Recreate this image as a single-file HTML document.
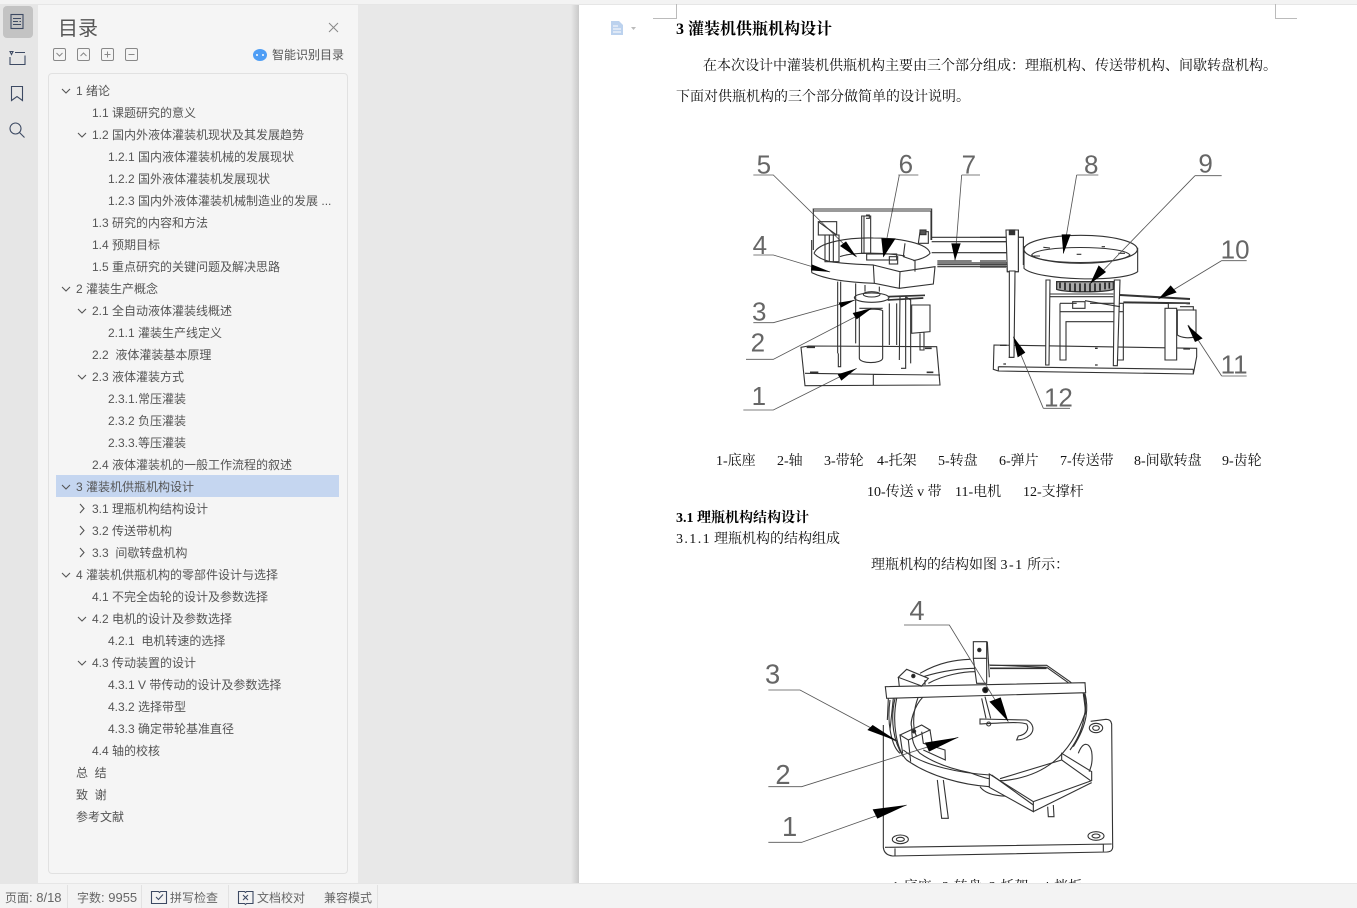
<!DOCTYPE html>
<html lang="zh"><head><meta charset="utf-8"><title>目录</title>
<style>
html,body{margin:0;padding:0}
body{width:1357px;height:908px;overflow:hidden;position:relative;background:#e8e8e8;font-family:"Liberation Sans","Noto Sans CJK SC",sans-serif;color:#555}
.a{position:absolute;white-space:nowrap}
.t{position:absolute;white-space:nowrap;font-size:12px;line-height:22px;height:22px;color:#555;margin-top:1px}
.d{position:absolute;white-space:nowrap;font-family:"Liberation Serif","Noto Serif CJK SC",serif;font-size:14px;line-height:20px;height:20px;color:#111;margin-top:2px}
.s{position:absolute;white-space:nowrap;font-size:12px;line-height:20px;top:888px;color:#666}
.s b{font-weight:400;font-size:13px}
svg{position:absolute;left:0;top:0}
</style></head><body>
<div class="a" style="left:0;top:0;width:38px;height:908px;background:#e6e6e6"></div>
<div class="a" style="left:38px;top:0;width:320px;height:908px;background:#f5f5f5"></div>
<div class="a" style="left:358px;top:0;width:221px;height:908px;background:#e8e8e8"></div>
<div class="a" style="left:571px;top:0;width:8px;height:908px;background:linear-gradient(90deg,#e8e8e8,#c9c9c9)"></div>
<div class="a" style="left:579px;top:0;width:778px;height:908px;background:#fff"></div>
<div class="a" style="left:0;top:0;width:1357px;height:4px;background:#f3f3f3;border-bottom:1px solid #e6e6e6"></div>
<div class="a" style="left:3px;top:6px;width:30px;height:32px;background:#c3c3c3;border-radius:4px"></div>
<div class="a" style="left:58px;top:16px;font-size:20px;line-height:26px;color:#555">目录</div>
<div class="a" style="left:272px;top:46px;font-size:12px;line-height:18px;color:#555">智能识别目录</div>
<div class="a" style="left:48px;top:73px;width:298px;height:799px;border:1px solid #e1e1e1;border-radius:4px;background:#f5f5f5"></div>
<div class="a" style="left:56px;top:475px;width:283px;height:22px;background:#c5d6f0"></div>

<div class="t" style="left:76px;top:79px">1 绪论</div>
<div class="t" style="left:92px;top:101px">1.1 课题研究的意义</div>
<div class="t" style="left:92px;top:123px">1.2 国内外液体灌装机现状及其发展趋势</div>
<div class="t" style="left:108px;top:145px">1.2.1 国内液体灌装机械的发展现状</div>
<div class="t" style="left:108px;top:167px">1.2.2 国外液体灌装机发展现状</div>
<div class="t" style="left:108px;top:189px">1.2.3 国内外液体灌装机械制造业的发展 ...</div>
<div class="t" style="left:92px;top:211px">1.3 研究的内容和方法</div>
<div class="t" style="left:92px;top:233px">1.4 预期目标</div>
<div class="t" style="left:92px;top:255px">1.5 重点研究的关键问题及解决思路</div>
<div class="t" style="left:76px;top:277px">2 灌装生产概念</div>
<div class="t" style="left:92px;top:299px">2.1 全自动液体灌装线概述</div>
<div class="t" style="left:108px;top:321px">2.1.1 灌装生产线定义</div>
<div class="t" style="left:92px;top:343px">2.2&nbsp; 液体灌装基本原理</div>
<div class="t" style="left:92px;top:365px">2.3 液体灌装方式</div>
<div class="t" style="left:108px;top:387px">2.3.1.常压灌装</div>
<div class="t" style="left:108px;top:409px">2.3.2 负压灌装</div>
<div class="t" style="left:108px;top:431px">2.3.3.等压灌装</div>
<div class="t" style="left:92px;top:453px">2.4 液体灌装机的一般工作流程的叙述</div>
<div class="t" style="left:76px;top:475px">3 灌装机供瓶机构设计</div>
<div class="t" style="left:92px;top:497px">3.1 理瓶机构结构设计</div>
<div class="t" style="left:92px;top:519px">3.2 传送带机构</div>
<div class="t" style="left:92px;top:541px">3.3&nbsp; 间歇转盘机构</div>
<div class="t" style="left:76px;top:563px">4 灌装机供瓶机构的零部件设计与选择</div>
<div class="t" style="left:92px;top:585px">4.1 不完全齿轮的设计及参数选择</div>
<div class="t" style="left:92px;top:607px">4.2 电机的设计及参数选择</div>
<div class="t" style="left:108px;top:629px">4.2.1&nbsp; 电机转速的选择</div>
<div class="t" style="left:92px;top:651px">4.3 传动装置的设计</div>
<div class="t" style="left:108px;top:673px">4.3.1 V 带传动的设计及参数选择</div>
<div class="t" style="left:108px;top:695px">4.3.2 选择带型</div>
<div class="t" style="left:108px;top:717px">4.3.3 确定带轮基准直径</div>
<div class="t" style="left:92px;top:739px">4.4 轴的校核</div>
<div class="t" style="left:76px;top:761px">总&nbsp; 结</div>
<div class="t" style="left:76px;top:783px">致&nbsp; 谢</div>
<div class="t" style="left:76px;top:805px">参考文献</div>

<svg width="1357" height="908" viewBox="0 0 1357 908" fill="none">
<g stroke="#3d4a63" stroke-width="1.100">
<rect x="11" y="14.500" width="12" height="14"/><path d="M13 18.500h8M13 21.500h5M19.500 21.500h1.500M13 24.500h8"/>
<path d="M10 51.500h3l-1.500 3zM15 52.500h10M10 57v7.500h15v-9"/>
<path d="M11.500 86.500h11v14l-5.500-4-5.500 4z"/>
<circle cx="15.500" cy="128.500" r="5.500"/><path d="M19.500 132.500l5 5"/>
</g>
<g stroke="#888" stroke-width="1"><path d="M329 23l9 9M338 23l-9 9"/>
<rect x="53.500" y="48.500" width="12" height="12" rx="1.500"/><path d="M56.500 53l3 3 3-3"/>
<rect x="77.500" y="48.500" width="12" height="12" rx="1.500"/><path d="M80.500 56l3-3 3 3"/>
<rect x="101.500" y="48.500" width="12" height="12" rx="1.500"/><path d="M104.500 54.500h6M107.500 51.500v6"/>
<rect x="125.500" y="48.500" width="12" height="12" rx="1.500"/><path d="M128.500 54.500h6"/></g>
<ellipse cx="260" cy="55" rx="7" ry="6" fill="#4f9ef5"/><circle cx="257" cy="55" r="1" fill="#fff"/><circle cx="263" cy="55" r="1" fill="#fff"/>
<g stroke="#555" stroke-width="1.100">
<path d="M62 89l4 4 4-4M78 133l4 4 4-4M62 287l4 4 4-4M78 309l4 4 4-4M78 375l4 4 4-4M62 485l4 4 4-4M62 573l4 4 4-4M78 617l4 4 4-4M78 661l4 4 4-4"/>
<path d="M80 504l4 4.500-4 4.500M80 526l4 4.500-4 4.500M80 548l4 4.500-4 4.500"/></g>
<path d="M653 18.500h23.500V4M1297 18.500h-21.500V4" stroke="#bbb"/>
<path d="M611 21h8l4 4v10h-12z" fill="#bcd2ee"/><path d="M613 26h5M613 29h8M613 32h8" stroke="#fff"/><path d="M631 27h5l-2.500 3z" fill="#bbb"/>

<!-- FIGURE 1 LEFT -->
<g transform="translate(740,140) scale(.33333)" stroke="#333" stroke-width="3.300">
<g stroke="none" fill="#666" font-family="Liberation Sans,sans-serif" font-size="78">
<text x="50" y="100">5</text><text x="476" y="99">6</text><text x="665" y="100">7</text>
<text x="38" y="342">4</text><text x="36" y="542">3</text><text x="32" y="635">2</text><text x="35" y="795">1</text></g>
<g stroke="#555" stroke-width="2.500">
<path d="M40 105H100L350 350M475 105H535M478 105L430 350M665 105H720M665 105L645 360M40 345H100L270 396M40 548H100L345 480M18 658H100L395 505M10 810H100L350 685"/></g>
<path d="M575 292H800M575 305H800M575 338H800"/>
<path d="M592 363H695M592 369H800M592 374H800M592 380H800" stroke-width="3.500"/>
<path d="M218 207H575V300M218 213H575M220 207V330M215 300V398M573 213V300"/>
<path d="M365 228H392V340H365ZM372 228V340M378 225h10v10h-10"/>
<rect x="235" y="245" width="55" height="40"/><path d="M235 245L290 285M255 285H297V365H255ZM268 285V365M280 285V365"/>
<path d="M222 340C235 305 330 292 400 294C480 294 565 310 570 340C560 352 540 358 520 362"/>
<path d="M300 350C340 335 440 338 495 348"/>
<path d="M222 340C232 352 250 360 270 365C320 372 360 373 400 375"/>
<path d="M215 398C260 420 340 428 403 430"/>
<path d="M400 375L480 395L478 445L403 430ZM480 395L585 380L580 432L478 445M495 310L490 350L525 362V395M540 275H565V310H535Z"/>
<rect x="380" y="342" width="90" height="18"/><rect x="448" y="350" width="25" height="22"/>
<path d="M293 425V640M302 425V680H295V640M347 430V610M448 490V615M470 490V615"/>
<path d="M480 470L478 660M497 470V685H483M497 470L512 480V670"/>
<ellipse cx="395" cy="473" rx="52" ry="14"/><ellipse cx="395" cy="463" rx="25" ry="8"/><path d="M375 435V455M418 440V455"/>
<path d="M443 470L555 466M443 480L550 474" stroke-width="5"/>
<path d="M358 520V655C360 672 425 672 428 655V512C420 505 370 505 358 520Z" fill="#fff"/>
<path d="M358 505H428"/>
<path d="M515 495H570V575L515 580ZM540 580V630H552V578" fill="#fff"/>
<path d="M183 622L205 618L590 620L600 735L195 737ZM183 622L195 737M195 700L400 703L600 705M400 703V737"/>
<path d="M200 622H225M555 625H575M210 697H235M560 697H580" stroke-width="5"/>
<path d="M800 270H835V395H802ZM835 292H850V345M805 270H830" fill="#fff"/><path d="M812 393V652M825 393L820 652H806"/>
<rect x="810" y="270" width="16" height="14" fill="#333"/>
<rect x="540" y="270" width="18" height="14" fill="#555"/>
<g fill="#000" stroke="none">
<path d="M350 352L300 318L318 304Z"/><path d="M430 352L424 295H467Z"/><path d="M645 362L634 310H662Z"/>
<path d="M272 396L215 373L213 391Z"/><path d="M345 480L296 488L303 503Z"/><path d="M395 505L338 519L350 538Z"/><path d="M350 685L293 703L304 722Z"/>
</g></g>

<!-- FIGURE 1 RIGHT -->
<g transform="translate(980,140) scale(.33333)" stroke="#333" stroke-width="3.300">
<g stroke="none" fill="#666" font-family="Liberation Sans,sans-serif" font-size="78">
<text x="312" y="100">8</text><text x="655" y="97">9</text><text x="722" y="355">10</text><text x="722" y="701">11</text><text x="192" y="799">12</text></g>
<path d="M42 615L650 625V650L640 702L55 693L40 688ZM55 680L640 688M55 680V693M640 688V702"/>
<path d="M60 616h20M610 627h20M345 625h8M345 675h8M70 672h8" stroke-width="4"/>
<path d="M210 462H400M210 470H400M240 490H290M330 490H430V660H412M240 515H430M240 490V660H258V545H400"/>
<path d="M198 420L197 675H207L210 420Z" fill="#fff"/><path d="M403 420L400 677H412L420 420Z" fill="#fff"/>
<path d="M278 485H315V505H278ZM315 482L420 500"/>
<path d="M420 465L630 477M430 487L630 490" stroke-width="6"/>
<path d="M555 505H590V660H555ZM565 505V490H630" fill="#fff"/>
<path d="M592 510H648V590C630 595 605 595 592 585ZM600 500H640V512" fill="#fff"/>
<path d="M132 320V385C170 422 430 428 473 395V325Z" fill="#fff"/>
<ellipse cx="302" cy="328" rx="170" ry="42" fill="#fff"/>
<path d="M155 345C170 315 430 315 450 345C420 375 180 375 155 345Z"/>
<path d="M190 322l20 2M365 320h10M415 340h20M160 348h20M290 343h14"/>
<path d="M230 425H400V448C370 458 260 458 230 448Z" fill="#aaa" stroke-width="4"/>
<path d="M240 428V445M255 428V450M270 430V454M285 430V456M300 430V456M315 430V456M330 430V456M345 430V454M360 430V452M375 428V448M388 428V446" stroke-width="5" stroke="#222"/>
<path d="M0 292H78M0 305H78M0 338H78"/><path d="M0 363H78M0 369H78M0 375H78M0 381H78" stroke-width="3.500"/>
<path d="M78 270H115V395H82ZM115 292H130V375M90 270H108" fill="#fff"/><path d="M88 393V652H102L105 393Z" fill="#fff"/>
<rect x="88" y="270" width="16" height="14" fill="#333"/>
<g stroke="#555" stroke-width="2.500"><path d="M290 105H355M290 105L250 340M645 107H725M645 107L330 432M725 362H800M725 362L535 477M725 708H800M725 708L625 555M190 805H270M190 805L100 590"/></g>
<g fill="#000" stroke="none">
<path d="M250 342L245 283H272Z"/><path d="M330 432L356 376L378 396Z"/><path d="M535 477L572 436L590 457Z"/><path d="M622 555L668 595L645 606Z"/><path d="M100 590L136 638L113 652Z"/>
</g></g>

<!-- FIGURE 2 -->
<g transform="translate(750,590) scale(.33333)" stroke="#333" stroke-width="3.300">
<g stroke="none" fill="#666" font-family="Liberation Sans,sans-serif" font-size="82">
<text x="478" y="90">4</text><text x="45" y="280">3</text><text x="76" y="582">2</text><text x="96" y="738">1</text></g>
<path d="M400 405V772Q402 795 428 798L1070 786Q1090 785 1088 768L1085 402Q1083 388 1068 388L1022 394"/>
<path d="M405 772L1085 762M435 775V797M1060 763V785"/>
<ellipse cx="451" cy="748" rx="24" ry="13"/><ellipse cx="451" cy="748" rx="12" ry="6"/>
<ellipse cx="1038" cy="738" rx="24" ry="13"/><ellipse cx="1038" cy="738" rx="12" ry="6"/>
<ellipse cx="1038" cy="414" rx="20" ry="14"/><ellipse cx="1038" cy="414" rx="10" ry="7"/>
<path d="M562 570L575 685H595L580 570M893 650L895 680H912L910 645"/>
<path d="M690 590C710 618 760 620 790 618"/>
<path d="M985 490C1000 450 1020 460 1025 485C1030 520 1020 540 1015 550"/>
<path d="M420 330C425 280 560 205 680 205L890 232L975 278L1005 310C1020 380 1000 420 935 490L1025 550V572L850 665L718 592C640 585 540 560 470 510C430 470 410 400 420 330Z" fill="#fff" stroke="none"/>
<path d="M510 250C570 215 620 210 660 208M520 260C570 245 630 235 680 235M535 280C580 255 640 245 675 245"/>
<path d="M720 226H890L960 275L1000 310M890 232L955 278"/>
<path d="M720 235H890" stroke-width="5"/>
<path d="M440 325C425 400 440 480 470 510C540 560 640 585 718 590M420 330C410 400 425 470 450 490M435 325C420 390 430 455 460 500"/>
<path d="M460 480C520 530 640 550 720 555"/>
<path d="M520 320C490 350 480 400 485 410C485 450 490 470 510 490C560 525 620 540 660 548C690 560 730 572 760 572C880 560 960 500 1005 370C1010 350 1005 330 1000 315"/>
<path d="M505 320C490 360 485 410 500 440"/>
<path d="M1005 310C1015 350 1015 400 970 470M1002 310C1012 350 1005 420 960 480"/>
<path d="M406 290L1005 278L1007 308L410 325Z" fill="#fff"/>
<path d="M415 325L412 390M430 325L420 420M1000 310L1008 375"/>
<path d="M670 155H710V280H680L670 205ZM670 205H712M712 155L718 262M718 225L890 232" fill="#fff"/>
<circle cx="688" cy="180" r="5" fill="#222"/><circle cx="706" cy="300" r="8" fill="#111"/>
<path d="M705 320L722 385M695 325L708 385"/>
<path d="M445 262L470 238L535 265L515 288L445 262ZM445 262L448 290M515 288L512 290M525 270V285" fill="#fff"/><circle cx="490" cy="258" r="5" fill="#222"/>
<path d="M690 387L830 390C850 400 855 420 840 435C825 448 810 450 800 450L805 438C825 435 840 420 830 402C810 395 770 398 690 402Z" fill="#fff"/>
<circle cx="716" cy="402" r="6"/>
<path d="M450 435L515 405L540 420L475 450ZM450 435L458 490M475 450L482 515M540 420L548 470M515 425L520 460L585 480L586 510L520 480"/>
<circle cx="492" cy="424" r="5" fill="#222"/>
<path d="M718 552L850 635V665L718 592Z" fill="#fff"/>
<path d="M725 555L850 645M850 635L1025 572L1025 545L935 490V510L1022 572M935 510L750 566"/>
<path d="M850 665L1025 578"/>
<g stroke="#555" stroke-width="2.500"><path d="M462 105H598L775 395M55 300H150L440 455M55 590H155L625 442M55 757H155L470 645"/></g>
<g fill="#000" stroke="none">
<path d="M775 395L718 335L752 322Z"/><path d="M445 455L352 420L368 405Z"/><path d="M625 442L525 458L537 485Z"/><path d="M470 645L368 658L382 686Z"/>
</g></g>
</svg>

<div class="d" style="left:676px;top:18px;font-size:16px;font-weight:700;color:#000">3 灌装机供瓶机构设计</div>
<div class="d" style="left:703px;top:55px">在本次设计中灌装机供瓶机构主要由三个部分组成：理瓶机构、传送带机构、间歇转盘机构。</div>
<div class="d" style="left:676px;top:86px">下面对供瓶机构的三个部分做简单的设计说明。</div>
<div class="d" style="left:716px;top:450px">1-底座</div>
<div class="d" style="left:777px;top:450px">2-轴</div>
<div class="d" style="left:824px;top:450px">3-带轮</div>
<div class="d" style="left:877px;top:450px">4-托架</div>
<div class="d" style="left:938px;top:450px">5-转盘</div>
<div class="d" style="left:999px;top:450px">6-弹片</div>
<div class="d" style="left:1060px;top:450px">7-传送带</div>
<div class="d" style="left:1134px;top:450px">8-间歇转盘</div>
<div class="d" style="left:1222px;top:450px">9-齿轮</div>
<div class="d" style="left:867px;top:481px">10-传送 v 带</div>
<div class="d" style="left:955px;top:481px">11-电机</div>
<div class="d" style="left:1023px;top:481px">12-支撑杆</div>
<div class="d" style="left:676px;top:507px;font-weight:700;color:#000">3.1 理瓶机构结构设计</div>
<div class="d" style="left:676px;top:528px"><span style="display:inline-block;width:38px;letter-spacing:1.400px">3.1.1</span>理瓶机构的结构组成</div>
<div class="d" style="left:871px;top:554px">理瓶机构的结构如图 <span style="letter-spacing:1.500px">3-1</span> 所示：</div>
<div class="d" style="left:892px;top:876px">1-底座&nbsp;&nbsp; 2-转盘&nbsp; 3-托架&nbsp;&nbsp;&nbsp; 4-挡板</div>

<div class="a" style="left:0;top:883px;width:1357px;height:25px;background:#f3f3f3;border-top:1px solid #e6e6e6;box-sizing:border-box"></div>
<div class="a" style="left:67px;top:885px;width:1px;height:23px;background:#e2e2e2"></div>
<div class="a" style="left:141px;top:885px;width:1px;height:23px;background:#e2e2e2"></div>
<div class="a" style="left:228px;top:885px;width:1px;height:23px;background:#e2e2e2"></div>
<div class="a" style="left:377px;top:885px;width:1px;height:23px;background:#e2e2e2"></div>
<div class="s" style="left:5px">页面<b>: 8/18</b></div>
<div class="s" style="left:77px">字数<b>: 9955</b></div>
<div class="s" style="left:170px">拼写检查</div>
<div class="s" style="left:257px">文档校对</div>
<div class="s" style="left:324px">兼容模式</div>
<svg width="1357" height="908" viewBox="0 0 1357 908" fill="none" style="pointer-events:none">
<g stroke="#3d4a63" stroke-width="1.100">
<path d="M151.500 891.500h7l1 1 1-1h6v12h-15zM156 897l2.500 2.500 4.500-5"/>
<path d="M238.500 891.500h6l1 1 1-1h6.500v12h-6.500l-1 1-1-1h-6zM243 895l5 5M248 895l-5 5"/>
</g></svg>
</body></html>
